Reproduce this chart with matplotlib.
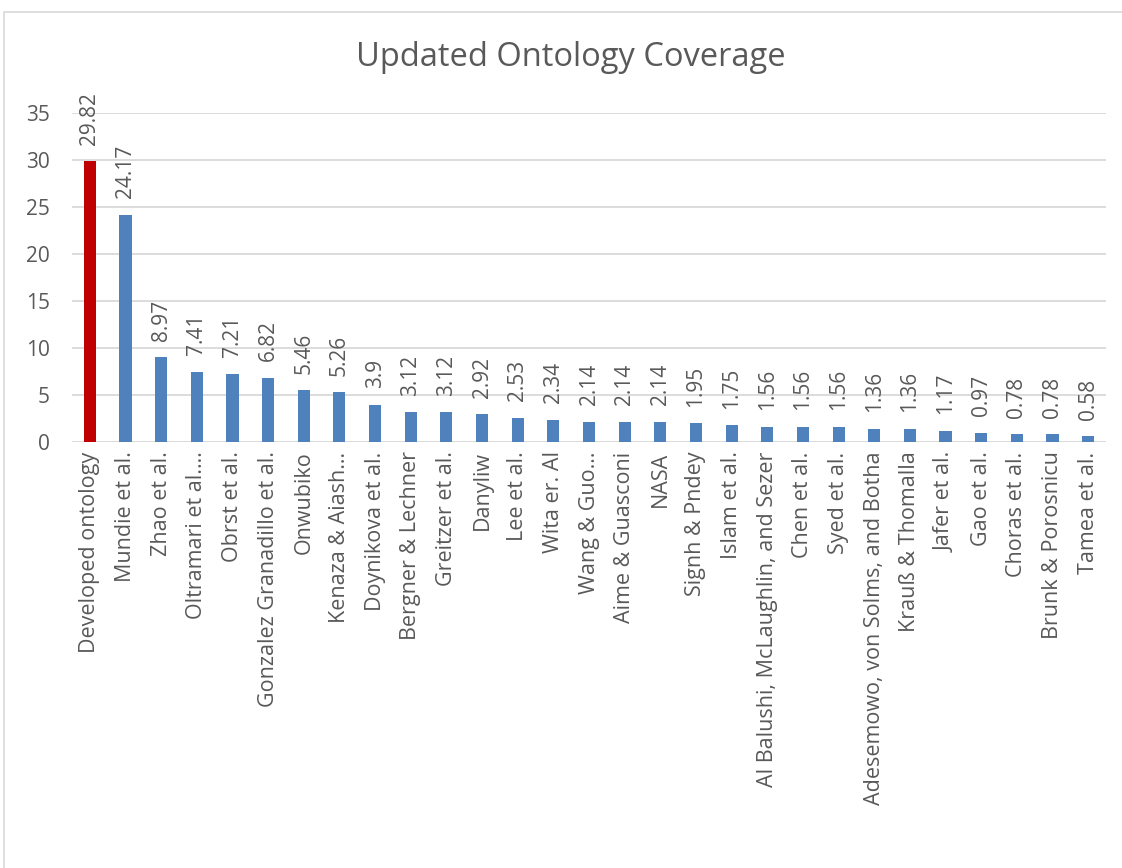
import matplotlib
matplotlib.use("Agg")
import matplotlib.pyplot as plt
from matplotlib.patches import Rectangle

# Coverage per ontology (percent)
categories = [
    "Developed ontology", "Mundie et al.", "Zhao et al.", "Oltramari et al.\u2026",
    "Obrst et al.", "Gonzalez Granadillo et al.", "Onwubiko", "Kenaza & Aiash\u2026",
    "Doynikova et al.", "Bergner & Lechner", "Greitzer et al.", "Danyliw",
    "Lee et al.", "Wita er. Al", "Wang & Guo\u2026", "Aime & Guasconi", "NASA",
    "Signh & Pndey", "Islam et al.", "Al Balushi, McLaughlin, and Sezer",
    "Chen et al.", "Syed et al.", "Adesemowo, von Solms, and Botha",
    "Krau\u00df & Thomalla", "Jafer et al.", "Gao et al.", "Choras et al.",
    "Brunk & Porosnicu", "Tamea et al.",
]
coverage = [
    29.82, 24.17, 8.97, 7.41, 7.21, 6.82, 5.46, 5.26, 3.9, 3.12, 3.12, 2.92,
    2.53, 2.34, 2.14, 2.14, 2.14, 1.95, 1.75, 1.56, 1.56, 1.56, 1.36, 1.36,
    1.17, 0.97, 0.78, 0.78, 0.58,
]
y_ticks = [0, 5, 10, 15, 20, 25, 30, 35]

TEXT = "#595959"
GRID = "#D9D9D9"
BLUE = "#4F81BD"
RED = "#C00000"

plt.rcParams["font.family"] = ["Open Sans", "DejaVu Sans"]

W, H = 1122, 868
fig = plt.figure(figsize=(W / 100, H / 100), dpi=100)

# chart frame
fig.patches.append(Rectangle((4 / W, -0.1), 1.2, 1.1 - 12.5 / H,
                             transform=fig.transFigure, fill=False,
                             edgecolor=GRID, linewidth=1.2))

left, right = 72 / W, 1106 / W
bottom, top = 1 - 441.7 / H, 1 - 112.7 / H
ax = fig.add_axes([left, bottom, right - left, top - bottom])

x = list(range(len(categories)))
colors = [RED] + [BLUE] * (len(categories) - 1)
ax.bar(x, coverage, width=0.34, color=colors, zorder=3)

for xi, v in zip(x, coverage):
    ax.annotate(f"{v:g}", (xi, v), xytext=(0, 12), textcoords="offset points",
                rotation=90, ha="center", va="bottom", fontsize=15,
                color=TEXT, annotation_clip=False)

ax.set_xlim(-0.5, len(categories) - 0.5)
ax.set_ylim(0, 35)
ax.set_yticks(y_ticks)
ax.set_xticks(x)
ax.set_xticklabels(categories, rotation=90, fontsize=15.5, color=TEXT)
ax.tick_params(axis="y", length=0, pad=16, labelsize=15, labelcolor=TEXT)
ax.tick_params(axis="x", length=0, pad=7)
ax.grid(axis="y", color=GRID, linewidth=1.3, zorder=0)
for s in ax.spines.values():
    s.set_visible(False)

fig.text(571 / W, 1 - 57 / H, "Updated Ontology Coverage", ha="center",
         va="center", fontsize=23.5, color=TEXT)

fig.savefig("out.png", dpi=100, facecolor="white")
